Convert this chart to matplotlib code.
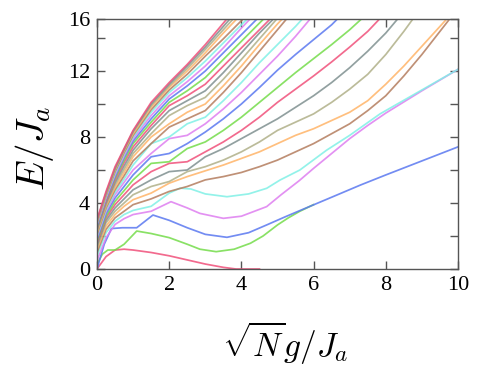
import numpy as np
import matplotlib
matplotlib.use("Agg")
import matplotlib.pyplot as plt

plt.rcParams['font.family'] = ['Liberation Serif', 'DejaVu Serif']
plt.rcParams['mathtext.fontset'] = 'cm'

# ---- data ----
palette = ['#f0507a', '#74dc4a', '#5a78f0', '#de7ef0', '#80f0e6',
           '#b47d5e', '#ffb468', '#b0b088', '#7f9090']

# low-lying levels with individual abscissae
x0 = [0, 0.25, 0.5, 0.75, 1.0, 1.5, 2.0, 2.5, 3.0, 3.5, 3.85, 4.5]
E0 = [0, 0.75, 1.15, 1.2, 1.15, 1.0, 0.8, 0.55, 0.3, 0.1, 0.0, 0.0]

x1 = [0, 0.15, 0.3, 0.5, 0.75, 1.1, 1.5, 2.0, 2.5, 2.85, 3.3, 3.8, 4.25, 4.6, 5.0, 5.3, 5.62, 6.0]
E1 = [0.3, 0.9, 1.15, 1.15, 1.5, 2.3, 2.15, 1.9, 1.5, 1.2, 1.05, 1.2, 1.56, 2.0, 2.67, 3.1, 3.5, 3.9]

x2 = [0, 0.2, 0.4, 0.7, 1.1, 1.55, 2.0, 2.5, 3.0, 3.6, 4.2, 4.7, 5.2, 5.62, 6.5, 7.3, 8.0, 9.0, 10.0]
E2 = [0, 1.5, 2.45, 2.5, 2.5, 3.27, 2.95, 2.5, 2.1, 1.92, 2.2, 2.67, 3.15, 3.54, 4.35, 5.09, 5.7, 6.55, 7.4]

x3 = [0, 0.25, 0.5, 0.75, 1.0, 1.5, 2.05, 2.5, 2.85, 3.5, 4.0, 4.7, 5.1, 5.6, 6.0, 6.5, 7.0, 7.5, 8.0, 9.0, 10.0]
E3 = [0.5, 1.9, 2.7, 3.05, 3.3, 3.5, 4.08, 3.7, 3.37, 3.07, 3.2, 3.78, 4.5, 5.35, 6.1, 7.0, 7.9, 8.7, 9.45, 10.8, 12.1]

x4 = [0, 0.25, 0.5, 0.75, 1.0, 1.5, 2.0, 2.3, 2.6, 3.0, 3.6, 4.2, 4.7, 5.07, 5.62, 6.36, 7.0, 7.84, 9.0, 10.0]
E4 = [0.8, 2.2, 2.9, 3.3, 3.55, 3.8, 4.6, 4.9, 4.85, 4.55, 4.38, 4.55, 4.89, 5.39, 6.0, 7.2, 8.1, 9.4, 10.85, 12.1]

# higher levels on a shared grid
x_grid = [0, 0.25, 0.5, 0.75, 1.0, 1.5, 2.0, 2.5, 3.0, 3.5, 4.0, 4.5,
          5.0, 5.5, 6.0, 6.5, 7.0, 7.5, 8.0, 8.5, 9.0, 9.5, 10.0]
E05 = [1.0, 2.4, 3.1, 3.5, 3.9, 4.25, 4.7, 5.0, 5.4, 5.6, 5.85, 6.2, 6.6, 7.1, 7.6, 8.2, 8.8, 9.6, 10.5, 11.7, 13.0, 14.4, 15.8]
E06 = [1.2, 2.6, 3.3, 3.8, 4.2, 4.6, 5.2, 5.6, 5.95, 6.3, 6.7, 7.1, 7.6, 8.1, 8.5, 9.0, 9.5, 10.2, 11.2, 12.3, 13.5, 14.7, 15.9]
E07 = [1.3, 2.8, 3.5, 4.0, 4.5, 5.0, 5.3, 5.9, 6.2, 6.6, 7.1, 7.7, 8.4, 8.9, 9.4, 10.1, 10.9, 11.8, 13.0, 14.4, 15.9]
E08 = [1.45, 2.95, 3.7, 4.25, 4.8, 5.4, 5.9, 6.0, 6.8, 7.3, 7.9, 8.5, 9.1, 9.8, 10.5, 11.3, 12.2, 13.2, 14.3, 15.6]
E09 = [1.6, 3.1, 3.9, 4.5, 5.1, 5.9, 6.4, 6.5, 7.1, 7.7, 8.4, 9.2, 10.1, 10.9, 11.7, 12.55, 13.45, 14.4, 15.55]
E10 = [1.7, 3.2, 4.1, 4.75, 5.4, 6.4, 6.5, 7.3, 7.7, 8.4, 9.2, 10.1, 11.0, 11.9, 12.75, 13.6, 14.5, 15.5]
E11 = [1.8, 3.35, 4.3, 5.0, 5.7, 6.8, 7.0, 7.6, 8.3, 9.1, 10.0, 11.0, 12.05, 13.0, 13.9, 14.8, 15.9]
E12 = [1.9, 3.5, 4.5, 5.25, 6.0, 7.0, 7.9, 8.1, 8.8, 9.7, 10.7, 11.8, 12.9, 14.1, 15.4]
E13 = [2.0, 3.6, 4.65, 5.45, 6.3, 7.6, 8.0, 8.8, 9.2, 10.2, 11.3, 12.5, 13.6, 14.7, 15.9]
E14 = [2.1, 3.7, 4.8, 5.65, 6.55, 7.6, 8.6, 9.1, 9.6, 10.7, 11.9, 13.2, 14.5, 15.8]
E15 = [2.2, 3.8, 4.95, 5.85, 6.8, 8.0, 8.8, 9.5, 10.0, 11.1, 12.3, 13.6, 14.85, 16.0]
E16 = [2.3, 3.9, 5.1, 6.05, 7.0, 8.2, 9.3, 9.9, 10.4, 11.5, 12.7, 13.95, 15.2]
E17 = [2.4, 4.0, 5.25, 6.25, 7.2, 8.5, 9.6, 10.2, 10.8, 11.9, 13.1, 14.3, 15.4]
E18 = [2.5, 4.1, 5.4, 6.45, 7.4, 8.7, 9.9, 10.5, 11.2, 12.3, 13.4, 14.5, 15.6]
E19 = [2.55, 4.2, 5.5, 6.6, 7.6, 8.9, 10.1, 10.8, 11.6, 12.7, 13.8, 14.9, 16.0]
E20 = [2.6, 4.25, 5.6, 6.75, 7.75, 9.1, 10.3, 11.1, 12.0, 13.1, 14.2, 15.3]
E21 = [2.7, 4.3, 5.7, 6.85, 7.9, 9.3, 10.5, 11.35, 12.3, 13.4, 14.6, 15.75]
E22 = [2.75, 4.4, 5.8, 6.95, 8.0, 9.5, 10.7, 11.6, 12.6, 13.7, 14.8, 15.9]
E23 = [2.8, 4.45, 5.9, 7.05, 8.1, 9.65, 10.85, 11.8, 12.9, 13.95, 15.05, 16.1]
E24 = [2.85, 4.5, 6.0, 7.15, 8.2, 9.8, 11.0, 12.0, 13.1, 14.3, 15.45]
E25 = [2.9, 4.55, 6.05, 7.2, 8.3, 9.9, 11.1, 12.15, 13.3, 14.5, 15.7]
E26 = [2.95, 4.6, 6.1, 7.25, 8.35, 10.0, 11.2, 12.3, 13.45, 14.7, 15.95]
E27 = [3.0, 4.7, 6.2, 7.3, 8.4, 10.1, 11.3, 12.4, 13.6, 14.9, 16.2]

upper = [E05, E06, E07, E08, E09, E10, E11, E12, E13, E14, E15, E16,
         E17, E18, E19, E20, E21, E22, E23, E24, E25, E26, E27]

x_ticks = [0, 2, 4, 6, 8, 10]
y_ticks_lab = ['0', '4', '8', '12', '16']

# ---- figure ----
W, H = 498, 376
fig = plt.figure(figsize=(W / 100, H / 100), dpi=100)
ax = fig.add_axes([97 / W, (H - 269) / H, (458 - 97) / W, (269 - 19) / H])

lw, al = 1.25, 0.85
lows = [(x0, E0), (x1, E1), (x2, E2), (x3, E3), (x4, E4)]
for i, (xs, es) in enumerate(lows):
    ax.plot(xs, es, color=palette[i % 9], lw=lw, alpha=al)
for j, es in enumerate(upper):
    i = j + 5
    ax.plot(x_grid[:len(es)], es, color=palette[i % 9], lw=lw, alpha=al)

ytop = 15.15
ax.set_xlim(0, 10)
ax.set_ylim(0, ytop)
ax.set_xticks(x_ticks)
ax.set_xticklabels([str(v) for v in x_ticks])
ax.set_yticks([0, 4, 8, 12, ytop])
ax.set_yticklabels(y_ticks_lab)
ax.set_yticks([2, 6, 10, 14], minor=True)
ax.tick_params(which='both', direction='in', top=True, right=True,
               length=6, width=1.0, color='#555555', labelsize=16, pad=5)
for s in ax.spines.values():
    s.set_color('#555555')
    s.set_linewidth(1.0)

fig.text(35 / W, 1 - 148 / H, r'$E/J_a$', rotation=90, fontsize=28,
         ha='center', va='center')
fig.text(285 / W, 1 - 342 / H, r'$\sqrt{N}g/J_a$', fontsize=24,
         ha='center', va='center')

fig.savefig('out.png', dpi=100)
